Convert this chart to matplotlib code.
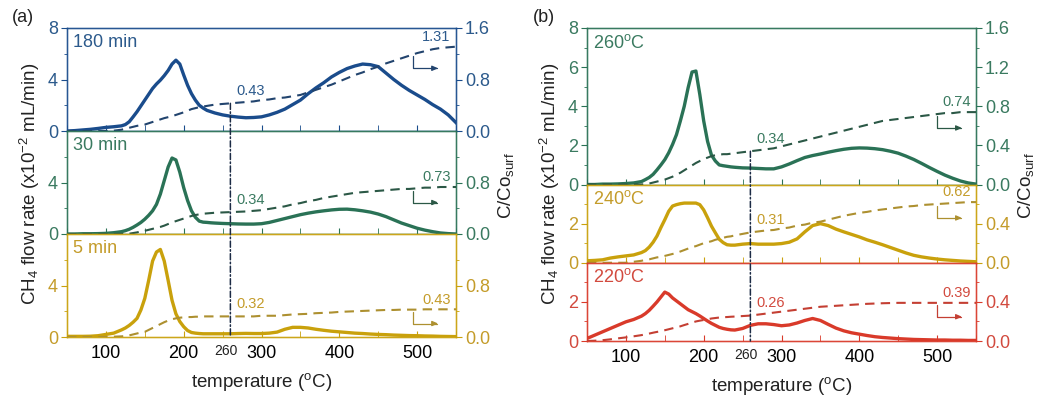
import numpy as np
import matplotlib.pyplot as plt
from matplotlib.patches import ConnectionPatch
from matplotlib.transforms import ScaledTranslation

plt.rcParams['font.family'] = ['Liberation Sans', 'DejaVu Sans']
plt.rcParams['mathtext.fontset'] = 'custom'
plt.rcParams['mathtext.rm'] = 'Liberation Sans'
plt.rcParams['mathtext.it'] = 'Liberation Sans:italic'

# temperature grid (finer around the low-T peaks)
T = list(range(50, 120, 10)) + list(range(120, 240, 5)) + list(range(240, 560, 10))

# ---- panel (a): flow rate (x1e-2 mL/min) and C/Co_surf ----
flow_180 = [0.0, 0.03, 0.08, 0.13, 0.2, 0.28, 0.33,
            0.4, 0.5, 0.72, 1.1, 1.5, 1.95, 2.4, 2.85, 3.3, 3.65, 3.95, 4.3, 4.7, 5.2, 5.5, 5.2,
            4.35, 3.55, 2.9, 2.4, 2.0, 1.78, 1.6, 1.5,
            1.4, 1.25, 1.15, 1.08, 1.03, 1.05, 1.1, 1.25, 1.45, 1.7, 2.05, 2.4, 2.9, 3.35, 3.75, 4.2,
            4.55, 4.85, 5.05, 5.2, 5.15, 5.0, 4.5, 4.0, 3.55, 3.15, 2.8, 2.45, 2.05, 1.7, 1.25, 0.65]
cov_180 = [0, 0, 0, 0, 0, 0, 0.005,
           0.02, 0.035, 0.05, 0.065, 0.08, 0.09, 0.1, 0.12, 0.14, 0.16, 0.18, 0.2, 0.215, 0.23, 0.25, 0.27,
           0.29, 0.315, 0.34, 0.355, 0.37, 0.38, 0.39, 0.40,
           0.41, 0.42, 0.43, 0.44, 0.45, 0.46, 0.48, 0.49, 0.51, 0.52, 0.54, 0.56, 0.6, 0.64, 0.68, 0.72,
           0.77, 0.82, 0.87, 0.91, 0.96, 1.0, 1.05, 1.09, 1.13, 1.17, 1.21, 1.24, 1.27, 1.29, 1.30, 1.31]

flow_30 = [0.0, 0.0, 0.02, 0.02, 0.03, 0.05, 0.1,
           0.18, 0.26, 0.37, 0.52, 0.7, 0.9, 1.15, 1.45, 1.8, 2.3, 3.1, 4.15, 5.2, 5.9, 5.75, 4.8,
           3.6, 2.6, 1.8, 1.3, 1.0, 0.92, 0.9, 0.87,
           0.85, 0.82, 0.8, 0.78, 0.77, 0.77, 0.8, 0.9, 1.05, 1.2, 1.35, 1.5, 1.62, 1.72, 1.8, 1.87,
           1.92, 1.93, 1.88, 1.8, 1.7, 1.55, 1.35, 1.1, 0.85, 0.65, 0.45, 0.3, 0.18, 0.08, 0.03, 0.0]
cov_30 = [0, 0, 0, 0, 0, 0, 0,
          0.0, 0.0, 0.005, 0.015, 0.025, 0.04, 0.05, 0.065, 0.08, 0.095, 0.11, 0.13, 0.155, 0.18, 0.2, 0.22,
          0.24, 0.26, 0.28, 0.295, 0.305, 0.315, 0.32, 0.325,
          0.33, 0.335, 0.34, 0.345, 0.35, 0.36, 0.37, 0.39, 0.41, 0.43, 0.46, 0.48, 0.51, 0.53, 0.56, 0.58,
          0.6, 0.62, 0.64, 0.65, 0.66, 0.67, 0.68, 0.69, 0.7, 0.7, 0.71, 0.72, 0.72, 0.73, 0.73, 0.73]

flow_5 = [0.05, 0.05, 0.05, 0.06, 0.1, 0.2, 0.3,
          0.55, 0.7, 0.9, 1.15, 1.45, 2.1, 3.0, 4.4, 5.9, 6.6, 6.8, 5.9, 4.4, 2.85, 1.8, 1.2,
          0.8, 0.5, 0.35, 0.3, 0.27, 0.25, 0.25, 0.25,
          0.25, 0.25, 0.25, 0.27, 0.28, 0.27, 0.27, 0.3, 0.38, 0.6, 0.75, 0.75, 0.7, 0.6, 0.52, 0.45,
          0.4, 0.35, 0.3, 0.27, 0.23, 0.2, 0.18, 0.15, 0.13, 0.11, 0.1, 0.08, 0.07, 0.05, 0.04, 0.03]
cov_5 = [0, 0, 0, 0, 0, 0, 0.005,
         0.01, 0.015, 0.025, 0.04, 0.055, 0.07, 0.08, 0.11, 0.14, 0.17, 0.2, 0.23, 0.255, 0.275, 0.29, 0.3,
         0.305, 0.31, 0.31, 0.315, 0.315, 0.32, 0.32, 0.32,
         0.32, 0.32, 0.32, 0.32, 0.32, 0.32, 0.33, 0.33, 0.33, 0.34, 0.35, 0.355, 0.36, 0.37, 0.375, 0.38,
         0.39, 0.395, 0.4, 0.405, 0.41, 0.415, 0.42, 0.42, 0.425, 0.425, 0.425, 0.43, 0.43, 0.43, 0.43, 0.43]

# ---- panel (b) ----
flow_260 = [0.0, 0.0, 0.02, 0.02, 0.03, 0.05, 0.08,
            0.15, 0.25, 0.36, 0.52, 0.75, 1.0, 1.27, 1.62, 2.05, 2.55, 3.25, 4.0, 4.95, 5.75, 5.8, 4.6,
            3.25, 2.2, 1.5, 1.2, 1.0, 0.96, 0.93, 0.9,
            0.88, 0.85, 0.84, 0.82, 0.8, 0.8, 0.9, 1.05, 1.22, 1.38, 1.48, 1.56, 1.65, 1.73, 1.8, 1.85,
            1.87, 1.86, 1.83, 1.78, 1.7, 1.6, 1.45, 1.28, 1.08, 0.87, 0.67, 0.48, 0.32, 0.18, 0.08, 0.02]
cov_260 = [0, 0, 0, 0, 0, 0, 0,
           0.0, 0.005, 0.01, 0.02, 0.03, 0.04, 0.05, 0.065, 0.08, 0.1, 0.12, 0.145, 0.17, 0.195, 0.22, 0.24,
           0.26, 0.275, 0.29, 0.3, 0.305, 0.31, 0.31, 0.315,
           0.32, 0.33, 0.34, 0.35, 0.36, 0.37, 0.39, 0.41, 0.43, 0.45, 0.47, 0.49, 0.51, 0.53, 0.55, 0.57,
           0.59, 0.61, 0.63, 0.65, 0.66, 0.67, 0.68, 0.69, 0.7, 0.71, 0.72, 0.73, 0.73, 0.74, 0.74, 0.74]

flow_240 = [0.1, 0.12, 0.15, 0.24, 0.3, 0.35, 0.4,
            0.52, 0.62, 0.8, 1.05, 1.37, 1.8, 2.2, 2.63, 2.9, 2.97, 3.02, 3.05, 3.05, 3.05, 3.05, 2.97,
            2.7, 2.3, 1.87, 1.53, 1.2, 1.03, 0.92, 0.9,
            0.9, 0.95, 0.98, 0.95, 0.95, 0.95, 0.98, 1.05, 1.22, 1.58, 1.9, 2.0, 1.9, 1.72, 1.58, 1.45,
            1.32, 1.17, 1.05, 0.92, 0.78, 0.64, 0.5, 0.38, 0.3, 0.24, 0.19, 0.15, 0.12, 0.09, 0.07, 0.05]
cov_240 = [0, 0, 0, 0, 0, 0, 0.01,
           0.02, 0.03, 0.035, 0.045, 0.055, 0.06, 0.07, 0.08, 0.09, 0.1, 0.115, 0.13, 0.145, 0.16, 0.17, 0.185,
           0.2, 0.21, 0.22, 0.235, 0.245, 0.255, 0.265, 0.27,
           0.28, 0.295, 0.31, 0.32, 0.33, 0.335, 0.35, 0.36, 0.38, 0.39, 0.41, 0.42, 0.44, 0.46, 0.48, 0.495,
           0.51, 0.52, 0.535, 0.545, 0.555, 0.565, 0.575, 0.58, 0.59, 0.595, 0.6, 0.605, 0.61, 0.615, 0.62, 0.62]

flow_220 = [0.13, 0.3, 0.47, 0.64, 0.81, 0.98, 1.1,
            1.27, 1.4, 1.57, 1.78, 2.0, 2.25, 2.5, 2.4, 2.2, 2.05, 1.9, 1.75, 1.6, 1.5, 1.4, 1.28,
            1.15, 1.02, 0.9, 0.8, 0.7, 0.64, 0.6, 0.57,
            0.56, 0.64, 0.8, 0.88, 0.88, 0.84, 0.78, 0.82, 0.92, 1.05, 1.15, 1.05, 0.85, 0.66, 0.52, 0.42,
            0.35, 0.28, 0.22, 0.18, 0.15, 0.12, 0.1, 0.08, 0.07, 0.06, 0.05, 0.05, 0.04, 0.04, 0.03, 0.03]
cov_220 = [0.0, 0.003, 0.008, 0.017, 0.027, 0.037, 0.048,
           0.06, 0.068, 0.076, 0.085, 0.093, 0.1, 0.11, 0.12, 0.13, 0.14, 0.15, 0.163, 0.175, 0.188, 0.2, 0.208,
           0.215, 0.222, 0.23, 0.235, 0.24, 0.243, 0.245, 0.248,
           0.25, 0.255, 0.26, 0.27, 0.28, 0.29, 0.3, 0.31, 0.32, 0.33, 0.34, 0.35, 0.355, 0.36, 0.365, 0.37,
           0.375, 0.38, 0.383, 0.386, 0.388, 0.39, 0.39, 0.39, 0.39, 0.39, 0.39, 0.39, 0.39, 0.39, 0.39, 0.39]

names_a = ['180 min', '30 min', '5 min']
names_b = ['260$^{\\mathrm{o}}$C', '240$^{\\mathrm{o}}$C', '220$^{\\mathrm{o}}$C']
mid_labels_a = ['0.43', '0.34', '0.32']
end_labels_a = ['1.31', '0.73', '0.43']
mid_labels_b = ['0.34', '0.31', '0.26']
end_labels_b = ['0.74', '0.62', '0.39']

blue = '#1a4c8c'
green = '#2a7256'
gold = '#c9a10c'
red = '#d93a2a'
dark = {blue: '#22446e', green: '#2b5846', gold: '#ad9030', red: '#c43f33'}
txt = {blue: '#2c5a8c', green: '#3a7a60', gold: '#c49c2a', red: '#d24a3e'}

fig = plt.figure(figsize=(10.39, 3.96), dpi=100)
W, H = 1039.0, 396.0
gs_a = fig.add_gridspec(3, 1, left=67/W, right=456/W, top=1-28/H, bottom=1-337/H, hspace=0)
gs_b = fig.add_gridspec(3, 1, left=587/W, right=976/W, top=1-28/H, bottom=1-341/H, hspace=0,
                        height_ratios=[2, 1, 1])


def subplot(spec, flow, cov, col, name, lticks, lminor, lmax, rticks, rminor, rmax,
            midlab, endlab, bottom, arrow_x):
    ax = fig.add_subplot(spec)
    axr = ax.twinx()
    ax.plot(T, flow, color=col, lw=2.4, zorder=2)
    axr.plot(T, cov, color=dark[col], lw=1.5, dashes=(4.5, 3), zorder=3)
    ax.set_xlim(50, 550)
    ax.set_ylim(0, lmax)
    axr.set_ylim(0, rmax)
    ax.set_yticks(lticks)
    ax.set_yticks(lminor, minor=True)
    ax.set_yticklabels([f'{v:g}' for v in lticks])
    axr.set_yticks(rticks)
    axr.set_yticks(rminor, minor=True)
    axr.set_yticklabels([f'{v:.1f}' for v in rticks])
    ax.set_xticks([100, 200, 300, 400, 500])
    ax.set_xticks([50, 150, 250, 350, 450, 550], minor=True)
    ax.tick_params(axis='x', which='both', direction='in', length=4, color=col, labelsize=13, pad=6)
    if not bottom:
        ax.tick_params(axis='x', labelbottom=False)
    for a in (ax, axr):
        a.tick_params(axis='y', which='major', direction='out', length=4.5, color=col,
                      labelcolor=txt[col], labelsize=13, pad=2)
        a.tick_params(axis='y', which='minor', direction='out', length=2.5, color=col)
        for s in a.spines.values():
            s.set_color(col)
            s.set_alpha(0.75)
            s.set_linewidth(1.0)
    ax.annotate(name, xy=(0, 1), xycoords='axes fraction', xytext=(4, -4),
                textcoords='offset points', ha='left', va='top', fontsize=13, color=txt[col])
    axr.annotate(midlab, xy=(260, np.interp(260, T, cov)), xytext=(4, 4), textcoords='offset points',
                 ha='left', va='bottom', fontsize=10.5, color=txt[col])
    axr.annotate(endlab, xy=(550, cov[-1]), xytext=(-4, 2), textcoords='offset points',
                 ha='right', va='bottom', fontsize=10.5, color=txt[col])
    y0 = np.interp(arrow_x, T, cov)
    endpt = axr.transData + ScaledTranslation(18/72, -10/72, fig.dpi_scale_trans)
    axr.annotate('', xy=(arrow_x, y0), xycoords=endpt, xytext=(-18, 8.5), textcoords='offset points',
                 arrowprops=dict(arrowstyle='-|>,head_length=0.35,head_width=0.15', color=dark[col],
                                 lw=0.9, shrinkA=0, shrinkB=0,
                                 connectionstyle='angle,angleA=90,angleB=0,rad=0'))
    return ax, axr


def panel(gs, flows, covs, cols, names, mids, ends, big_first, arrow_x):
    axes = []
    for i in range(3):
        if big_first:
            if i == 0:
                lt, lm, lmax = [0, 2, 4, 6, 8], [1, 3, 5, 7], 8
                rt, rm, rmax = [0, 0.4, 0.8, 1.2, 1.6], [0.2, 0.6, 1.0, 1.4], 1.6
            else:
                lt, lm, lmax = [0, 2], [1, 3], 4
                rt, rm, rmax = [0, 0.4], [0.2, 0.6], 0.8
        else:
            lt = [0, 4, 8] if i == 0 else [0, 4]
            lm, lmax = [2, 6], 8
            rt = [0, 0.8, 1.6] if i == 0 else [0, 0.8]
            rm, rmax = [0.4, 1.2], 1.6
        axes.append(subplot(gs[i], flows[i], covs[i], cols[i], names[i], lt, lm, lmax, rt, rm, rmax,
                            mids[i], ends[i], i == 2, arrow_x))
    ax_bot = axes[2][0]
    con = ConnectionPatch(xyA=(260, np.interp(260, T, covs[0])), coordsA=axes[0][1].transData,
                          xyB=(260, 0), coordsB=ax_bot.transData, color='#1c2b45', lw=1.1,
                          linestyle=(0, (4, 1.6, 1, 1.6)), zorder=5)
    fig.add_artist(con)
    ax_bot.annotate('260', xy=(260, 0), xycoords=('data', 'axes fraction'), xytext=(-3, -5),
                    textcoords='offset points', ha='center', va='top', fontsize=10, color='#222222')
    ax_bot.set_xlabel('temperature ($^{\\mathrm{o}}$C)', fontsize=13.5, color='#222222', labelpad=6)
    return axes


panel(gs_a, [flow_180, flow_30, flow_5], [cov_180, cov_30, cov_5], [blue, green, gold],
      names_a, mid_labels_a, end_labels_a, False, 495)
panel(gs_b, [flow_260, flow_240, flow_220], [cov_260, cov_240, cov_220], [green, gold, red],
      names_b, mid_labels_b, end_labels_b, True, 500)

ylab = 'CH$_4$ flow rate (x10$^{-2}$ mL/min)'
rlab = 'C/Co$_{\\mathrm{surf}}$'
fig.text(30/W, 1-184/H, ylab, rotation=90, ha='center', va='center', fontsize=13.5, color='#222222')
fig.text(550/W, 1-184/H, ylab, rotation=90, ha='center', va='center', fontsize=13.5, color='#222222')
fig.text(506/W, 1-186/H, rlab, rotation=90, ha='center', va='center', fontsize=13.5, color='#222222')
fig.text(1026/W, 1-186/H, rlab, rotation=90, ha='center', va='center', fontsize=13.5, color='#222222')
fig.text(23/W, 1-17/H, '(a)', ha='center', va='center', fontsize=13, color='#222222')
fig.text(544/W, 1-17/H, '(b)', ha='center', va='center', fontsize=13, color='#222222')

fig.savefig('out.png', dpi=100)
